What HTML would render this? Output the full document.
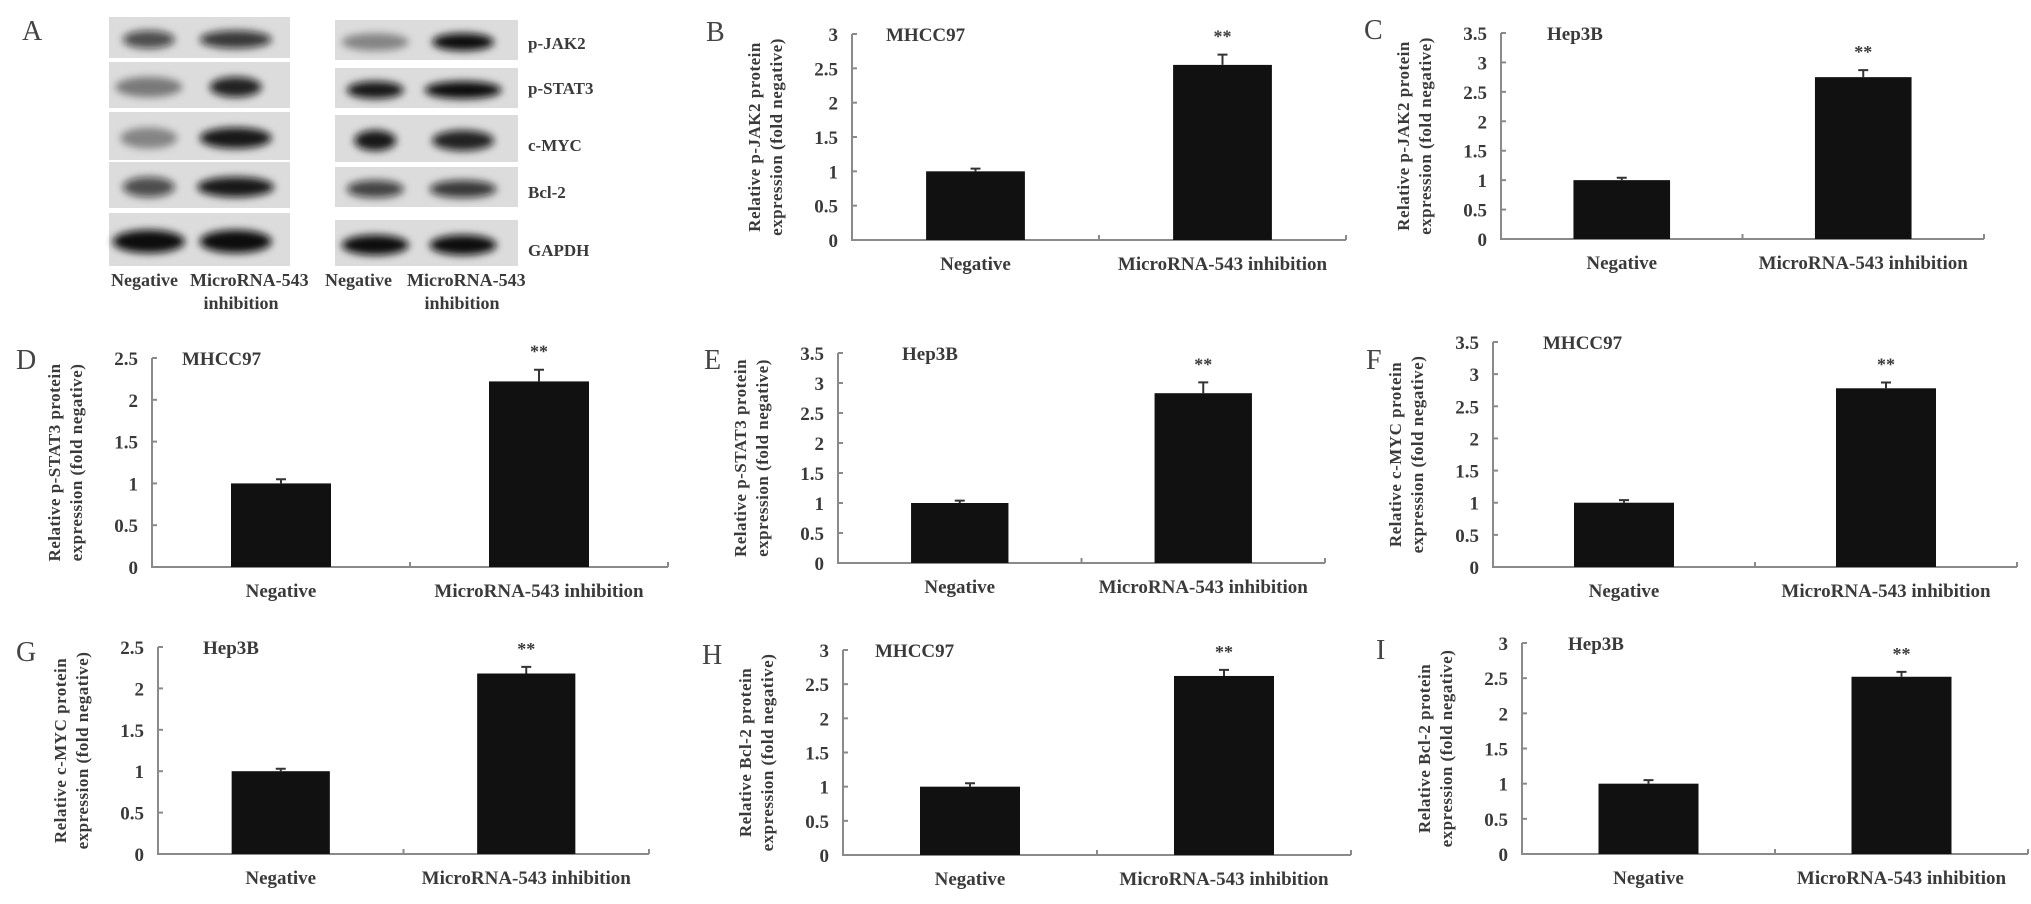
<!DOCTYPE html>
<html><head><meta charset="utf-8">
<style>
html,body{margin:0;padding:0;background:#fff;}
svg{display:block;font-family:"Liberation Serif",serif;}
.t{font-weight:bold;fill:#3a3a3a;}
</style></head>
<body>
<svg id="fig" width="2031" height="904" viewBox="0 0 2031 904">
<defs>
<filter id="blur" x="-50%" y="-50%" width="200%" height="200%"><feGaussianBlur stdDeviation="4"/></filter>
</defs>
<g id="blot"></g>
<g id="charts"></g>
</svg>
<script>
const NS="http://www.w3.org/2000/svg";
function mk(tag,attrs,parent,txt){const e=document.createElementNS(NS,tag);for(const k in attrs)e.setAttribute(k,attrs[k]);if(txt!==undefined)e.textContent=txt;parent.appendChild(e);return e;}

// ---------- chart data ----------
const categories=["Negative","MicroRNA-543 inhibition"];
const panelLetters=["B","C","D","E","F","G","H","I"];
const cellLines=["MHCC97","Hep3B","MHCC97","Hep3B","MHCC97","Hep3B","MHCC97","Hep3B"];
const proteins=["p-JAK2","p-JAK2","p-STAT3","p-STAT3","c-MYC","c-MYC","Bcl-2","Bcl-2"];
const negValues=[1.0,1.0,1.0,1.0,1.0,1.0,1.0,1.0];
const negErrors=[0.04,0.04,0.05,0.04,0.04,0.03,0.05,0.05];
const inhValues=[2.55,2.75,2.22,2.83,2.78,2.18,2.62,2.52];
const inhErrors=[0.15,0.12,0.14,0.18,0.09,0.08,0.09,0.07];
const yMaxes=[3,3.5,2.5,3.5,3.5,2.5,3,3];
const tickLabels={"2.5":["0","0.5","1","1.5","2","2.5"],"3":["0","0.5","1","1.5","2","2.5","3"],"3.5":["0","0.5","1","1.5","2","2.5","3","3.5"]};

// layout (pixels)
const layout=[
 {x0:852,x1:1346,yt:34,yb:240,lx:706,ly:27,tx:886},
 {x0:1501,x1:1984,yt:33,yb:239,lx:1364,ly:25,tx:1547},
 {x0:152,x1:668,yt:358,yb:567,lx:16,ly:355,tx:182},
 {x0:838,x1:1325,yt:353,yb:563,lx:704,ly:355,tx:902},
 {x0:1493,x1:2017,yt:342,yb:567,lx:1366,ly:355,tx:1543},
 {x0:158,x1:649,yt:647,yb:854,lx:16,ly:647,tx:203},
 {x0:843,x1:1351,yt:650,yb:855,lx:702,ly:650,tx:875},
 {x0:1522,x1:2028,yt:643,yb:854,lx:1376,ly:645,tx:1568}
];

const charts=document.getElementById('charts');
panelLetters.forEach((L,i)=>{
  const p=layout[i];
  const g=mk('g',{},charts);
  
  
  const ymax=yMaxes[i];
  const yS=v=>p.yb-(v/ymax)*(p.yb-p.yt);
  const band=(p.x1-p.x0)/2;
  const xC=k=>p.x0+band*(k+0.5);
  const bw=Math.min(100,band*0.4);
  // letter
  const lt=mk('text',{x:p.lx,y:p.ly+14,'font-size':28,fill:'#444'},g,L);
  
  
  // axes
  const ax=mk('path',{d:`M${p.x0},${p.yt} V${p.yb} H${p.x1} M${p.x0+band},${p.yb} v-5 M${p.x1},${p.yb} v-5`,stroke:'#8a8a8a','stroke-width':2,fill:'none'},g);
  
  
  // ticks
  tickLabels[String(ymax)].forEach(tl=>{
    const v=parseFloat(tl),y=yS(v);
    mk('line',{x1:p.x0,x2:p.x0+5,y1:y,y2:y,stroke:'#8a8a8a','stroke-width':2},g);
    const t=mk('text',{x:p.x0-14,y:y+7,'font-size':19,'text-anchor':'end',class:'t'},g,tl);
    
    
  });
  // y title
  const cy=(p.yt+p.yb)/2;
  const yt=mk('text',{transform:`translate(${p.x0-92},${cy}) rotate(-90)`,'font-size':17,'text-anchor':'middle',class:'t','letter-spacing':'0.5'},g);
  
  
  mk('tspan',{x:0,y:0},yt,'Relative '+proteins[i]+' protein');
  mk('tspan',{x:0,y:22},yt,'expression (fold negative)');
  // cell line title
  const ct=mk('text',{x:p.tx,y:p.yt+7,'font-size':19,class:'t'},g,cellLines[i]);
  
  
  // bars
  const vals=[negValues[i],inhValues[i]],errs=[negErrors[i],inhErrors[i]];
  vals.forEach((v,k)=>{
    const cx=xC(k);
    const b=mk('rect',{x:cx-bw/2,y:yS(v),width:bw,height:p.yb-yS(v),fill:'#111'},g);
    
    
    const ye=yS(v+errs[k]);
    const eb=mk('path',{d:`M${cx},${yS(v)} V${ye} M${cx-5},${ye} H${cx+5}`,stroke:'#333','stroke-width':2},g);
    
    
    if(k===1){
      const s=mk('text',{x:cx,y:ye-12,'font-size':18,'text-anchor':'middle',class:'t',fill:'#555'},g,'**');
      
      
    }
    const xl=mk('text',{x:cx,y:p.yb+30,'font-size':19,'text-anchor':'middle',class:'t'},g,categories[k]);
    
    
  });
});

// ---------- western blot ----------
const blot=document.getElementById('blot');
const aL=mk('text',{x:22,y:40,'font-size':28,fill:'#444'},blot,'A');


const leftRows=[[17,58],[62,108],[112,160],[162,208],[213,266]];
const rightRows=[[20,60],[68,108],[115,162],[167,207],[220,266]];
// band intensities [lane1 width,lane1 darkness, lane2 width, lane2 darkness]
const leftBands=[[40,0.7,60,0.8],[55,0.45,40,0.9],[45,0.4,60,0.95],[40,0.7,65,0.95],[60,1,60,1]];
const rightBands=[[55,0.4,50,1],[45,0.95,65,1],[30,0.95,50,0.9],[45,0.75,55,0.8],[55,1,55,1]];
function drawBlock(x0,x1,rows,bands,side){
  rows.forEach((r,i)=>{
    const rr=mk('rect',{x:x0,y:r[0],width:x1-x0,height:r[1]-r[0],fill:'#dcdcdc'},blot);
    
    
    const cy=(r[0]+r[1])/2+2,w=x1-x0;
    const b=bands[i];
    [[x0+w*0.22,b[0],b[1]],[x0+w*0.7,b[2],b[3]]].forEach(bd=>{
      const e=mk('ellipse',{cx:bd[0],cy:cy,rx:bd[1]/2+6,ry:(r[1]-r[0])*0.22,fill:'#0a0a0a','fill-opacity':bd[2],filter:'url(#blur)'},blot);
      
      
    });
  });
}
drawBlock(109,290,leftRows,leftBands,'left');
drawBlock(335,518,rightRows,rightBands,'right');
const labels=[["p-JAK2",49],["p-STAT3",94],["c-MYC",151],["Bcl-2",198],["GAPDH",256]];
labels.forEach(l=>{
  const t=mk('text',{x:528,y:l[1],'font-size':17,class:'t'},blot,l[0]);
  
  
});
[[111,286,'start','Negative'],[190,286,'start','MicroRNA-543'],[241,309,'middle','inhibition'],
 [325,286,'start','Negative'],[407,286,'start','MicroRNA-543'],[462,309,'middle','inhibition']].forEach(l=>{
  const t=mk('text',{x:l[0],y:l[1],'font-size':18,'text-anchor':l[2],class:'t'},blot,l[3]);
  
  
});
</script>
</body></html>
